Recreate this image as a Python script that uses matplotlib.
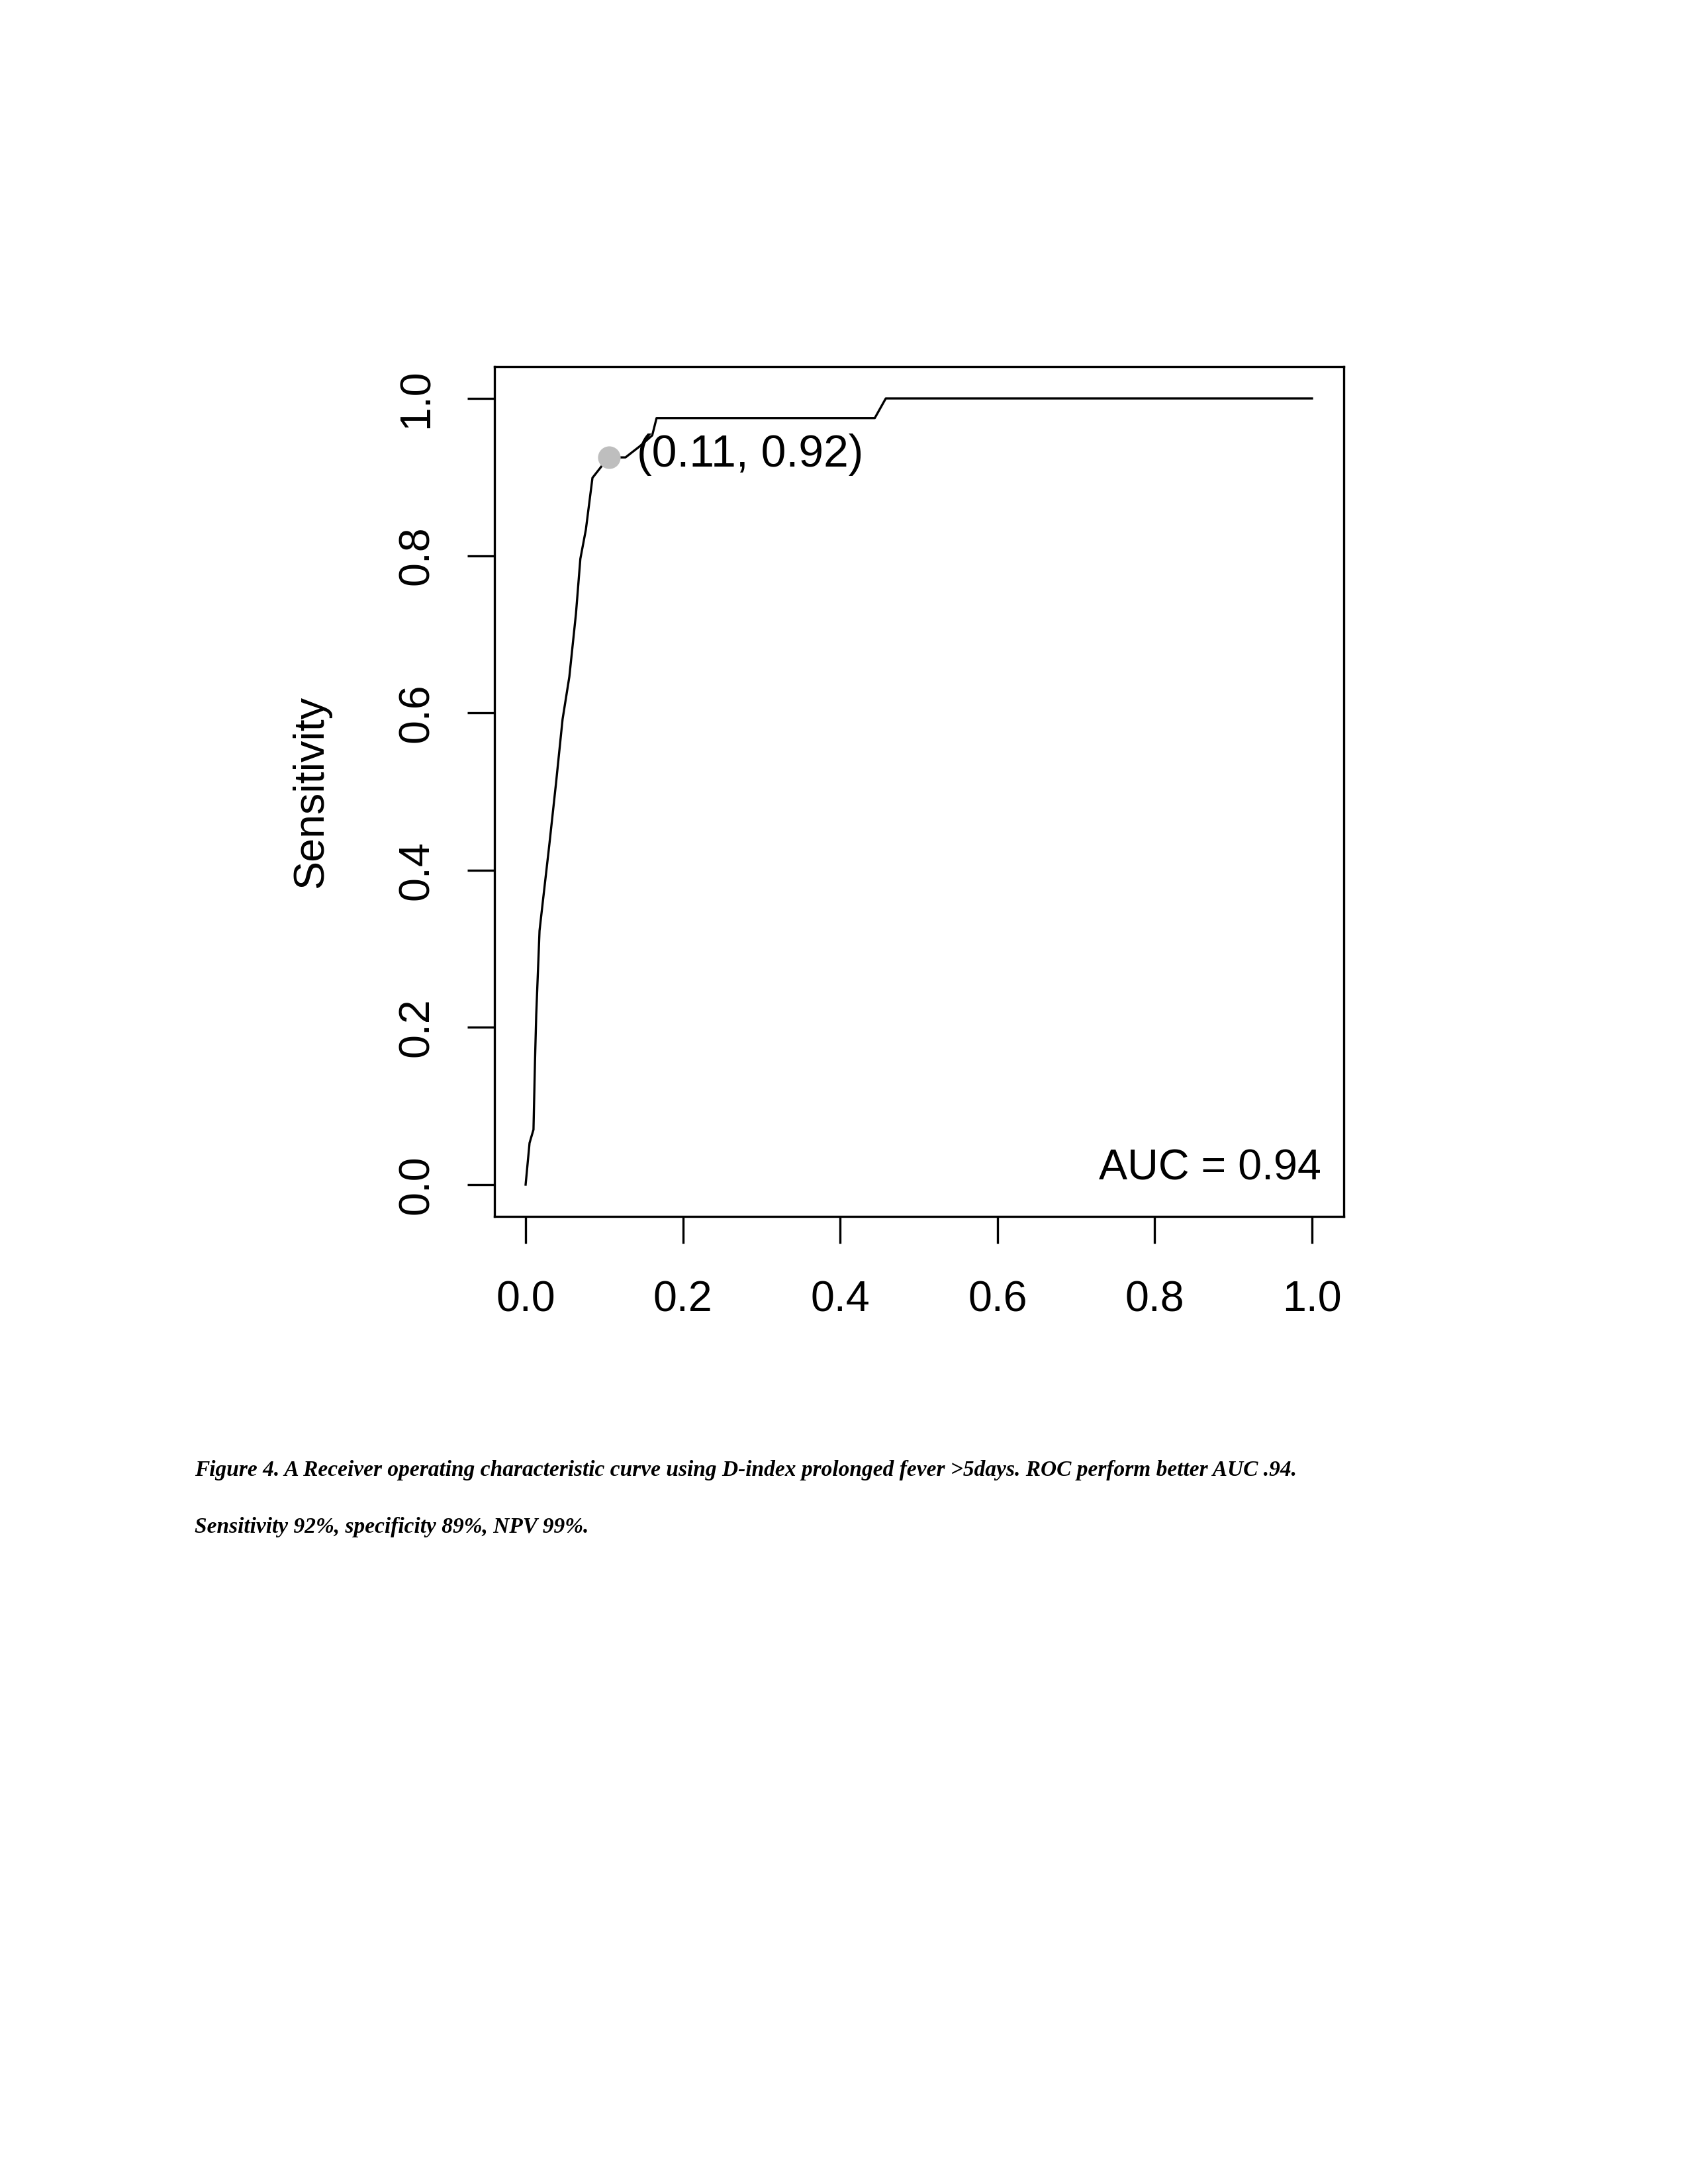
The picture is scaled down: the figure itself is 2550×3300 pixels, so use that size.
import matplotlib
matplotlib.use("Agg")
import matplotlib.pyplot as plt

# ROC curve (1 - specificity, sensitivity)
fpr = [0, 0.005, 0.010, 0.012, 0.0135, 0.0177, 0.022, 0.030, 0.0387, 0.047,
       0.0556, 0.064, 0.0696, 0.0766, 0.085, 0.096, 0.106, 0.127, 0.145,
       0.161, 0.1665, 0.444, 0.458, 1.0]
tpr = [0, 0.053, 0.070, 0.160, 0.216, 0.323, 0.361, 0.431, 0.511, 0.592,
       0.646, 0.726, 0.796, 0.833, 0.899, 0.913, 0.925, 0.925, 0.939,
       0.953, 0.975, 0.975, 1.0, 1.0]

best_x = 0.106
best_y = 0.925
best_label = "(0.11, 0.92)"
auc_label = "AUC = 0.94"
ticks = [0.0, 0.2, 0.4, 0.6, 0.8, 1.0]
tick_labels = ["0.0", "0.2", "0.4", "0.6", "0.8", "1.0"]

caption1 = ("Figure 4. A Receiver operating characteristic curve using D-index "
            "prolonged fever >5days. ROC perform better AUC .94.")
caption2 = "Sensitivity 92%, specificity 89%, NPV 99%."

plt.rcParams['font.family'] = ['Liberation Sans', 'DejaVu Sans']
FS = 15.5

fig = plt.figure(figsize=(8.5, 11), dpi=300)
ax = fig.add_axes([0.29275, 0.44318, 0.50314, 0.38879])

ax.plot(fpr, tpr, color='black', lw=0.8)
ax.plot([best_x], [best_y], 'o', color='#BEBEBE', markersize=7.2, zorder=3)
ax.text(0.141, 0.913, best_label, fontsize=16.3, ha='left', va='baseline')
ax.text(1.012, 0.006, auc_label, fontsize=FS, ha='right', va='baseline')

ax.set_xlim(-0.04, 1.04)
ax.set_ylim(-0.04, 1.04)
ax.set_xticks(ticks)
ax.set_xticklabels(tick_labels)
ax.set_yticks(ticks)
ax.set_yticklabels(tick_labels, rotation=90, va='center')
ax.tick_params(axis='both', direction='out', length=9.8, width=0.8,
               labelsize=FS, color='black')
ax.tick_params(axis='x', pad=13.5)
ax.tick_params(axis='y', pad=11)
for s in ax.spines.values():
    s.set_linewidth(0.8)

ax.set_ylabel("Sensitivity", fontsize=FS, labelpad=24)

fig.text(294 / 2550, 1 - 2230 / 3300, caption1, fontsize=8,
         family='Liberation Serif', weight='bold', style='italic',
         ha='left', va='baseline')
fig.text(294 / 2550, 1 - 2316 / 3300, caption2, fontsize=8,
         family='Liberation Serif', weight='bold', style='italic',
         ha='left', va='baseline')

fig.savefig("out.png", dpi=300)
